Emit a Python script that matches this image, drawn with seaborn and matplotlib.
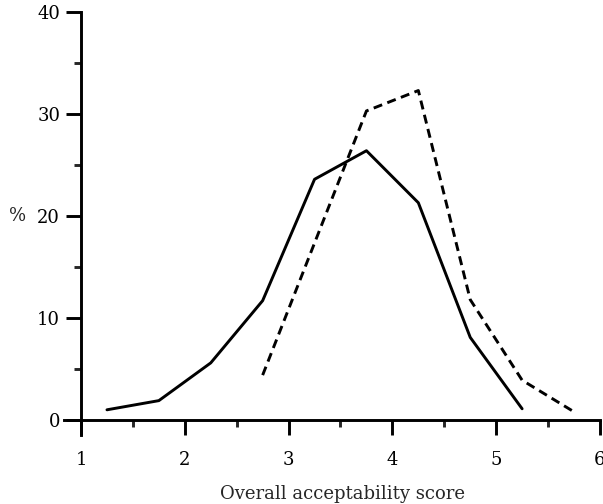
import matplotlib
matplotlib.use("Agg")
import matplotlib.pyplot as plt
import seaborn as sns
import pandas as pd
from matplotlib.ticker import MultipleLocator

# Data
solid_x = [1.25, 1.75, 2.25, 2.75, 3.25, 3.75, 4.25, 4.75, 5.25]
solid_y = [1.0, 1.9, 5.6, 11.7, 23.6, 26.4, 21.3, 8.1, 1.1]
dashed_x = [2.75, 3.75, 4.25, 4.75, 5.25, 5.75]
dashed_y = [4.4, 30.3, 32.3, 11.8, 3.9, 0.8]
x_ticks = [1, 2, 3, 4, 5, 6]
y_ticks = [0, 10, 20, 30, 40]
x_label = "Overall acceptability score"
y_label = "%"

df = pd.concat([
    pd.DataFrame({"score": solid_x, "pct": solid_y, "group": "solid"}),
    pd.DataFrame({"score": dashed_x, "pct": dashed_y, "group": "dashed"}),
], ignore_index=True)

sns.set_style("ticks")
plt.rcParams["font.family"] = ["DejaVu Serif"]

LW = 2.1
fig = plt.figure(figsize=(6.03, 5.04), dpi=100)
ax = fig.add_axes([0.1061, 0.1369, 0.8889, 0.8393])

sns.lineplot(data=df, x="score", y="pct", style="group",
             dashes={"solid": "", "dashed": (3.1, 1.9)},
             color="black", linewidth=LW, legend=False, ax=ax,
             estimator=None, sort=False)
for ln in ax.lines:
    ln.set_clip_on(False)

ax.set_xlim(0.836, 6.0)
ax.set_ylim(-1.47, 40)
ax.spines["left"].set_position(("data", 1))
ax.spines["bottom"].set_position(("data", 0))
ax.spines["right"].set_visible(False)
ax.spines["top"].set_visible(False)
for s in ("left", "bottom"):
    ax.spines[s].set_linewidth(LW)
    ax.spines[s].set_color("black")

ax.set_xticks(x_ticks)
ax.set_yticks(y_ticks)
ax.xaxis.set_minor_locator(MultipleLocator(0.5))
ax.yaxis.set_minor_locator(MultipleLocator(5))
ax.tick_params(axis="x", which="major", direction="out", length=11, width=LW,
               pad=11, labelsize=13, colors="black")
ax.tick_params(axis="x", which="minor", direction="out", length=5, width=LW)
ax.tick_params(axis="y", which="major", direction="out", length=11, width=LW,
               pad=4, labelsize=13, colors="black")
ax.tick_params(axis="y", which="minor", direction="out", length=5, width=LW)

ax.set_xlabel(x_label, fontsize=13, va="center")
ax.xaxis.set_label_coords(0.52, -0.139)
ax.set_ylabel(y_label, fontsize=13, rotation=0, va="center", ha="center")
ax.yaxis.set_label_coords(-0.0858, 0.518)

fig.savefig("out.png", dpi=100)
